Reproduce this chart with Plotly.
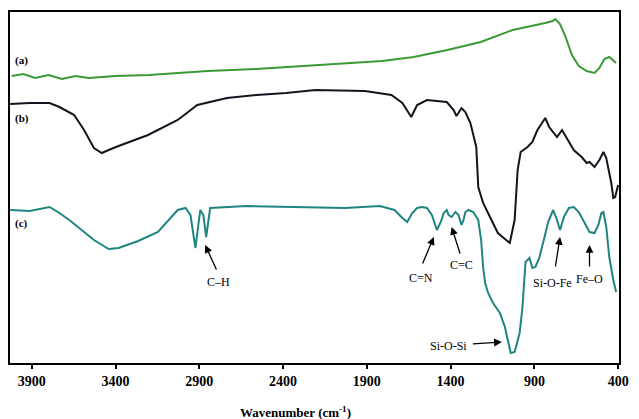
import plotly.graph_objects as go

# ---- data (wavenumber in cm^-1, transmittance in arbitrary offset units) ----
wn_a = [4020, 3950, 3880, 3800, 3720, 3640, 3560, 3480, 3400, 3200, 3000, 2850, 2560,
        2200, 1810, 1620, 1420, 1220, 1030, 835, 790, 776, 747, 718, 676, 635, 588, 541,
        512, 482, 453, 412]
tr_a = [287, 289, 285, 288, 284, 287, 285, 286, 287, 288, 290, 292, 294,
        298, 302, 306, 313, 321, 333, 340, 342, 344, 339, 328, 308, 297, 292, 290,
        295, 304, 306, 300]

wn_b = [4029, 3912, 3794, 3735, 3647, 3588, 3529, 3482, 3441, 3382, 3206, 3029, 2912,
        2735, 2559, 2382, 2206, 1912, 1753, 1688, 1635, 1600, 1541, 1423, 1382, 1365,
        1335, 1312, 1282, 1247, 1235, 1206, 1165, 1118, 1047, 1018, 1000, 982, 941,
        912, 882, 835, 812, 765, 735, 694, 665, 618, 588, 571, 541, 512, 488, 471,
        441, 429, 418, 400]
tr_b = [259, 260, 260, 256, 248, 233, 215, 210, 213, 217, 228, 243, 258,
        265, 268, 270, 273, 272, 268, 260, 246, 258, 263, 261, 253, 247,
        255, 251, 240, 216, 176, 160, 146, 130, 120, 143, 193, 211, 216,
        221, 233, 245, 236, 226, 233, 221, 213, 206, 200, 201, 196, 203, 211, 205,
        180, 165, 166, 178]

wn_c = [4029, 3912, 3794, 3735, 3676, 3617, 3529, 3441, 3382, 3265, 3147, 3029, 2982,
        2953, 2929, 2923, 2906, 2894, 2876, 2859, 2841, 2835, 2618, 2323, 2029, 1823,
        1735, 1688, 1659, 1629, 1600, 1571, 1541, 1512, 1488, 1482, 1459, 1441, 1423,
        1412, 1394, 1371, 1353, 1335, 1323, 1312, 1294, 1265, 1235, 1218, 1206, 1194,
        1176, 1147, 1106, 1076, 1059, 1041, 1018, 988, 971, 959, 953, 929, 912, 894,
        871, 841, 818, 788, 765, 747, 724, 694, 665, 635, 600, 571, 541, 518, 500,
        488, 471, 453, 429, 412]
tr_c = [153, 152, 156, 150, 143, 135, 123, 114, 115, 122, 131, 153, 155,
        148, 125, 115, 138, 153, 148, 126, 148, 155, 157, 156, 155, 157,
        153, 145, 141, 150, 155, 156, 155, 148, 135, 133, 141, 150, 153,
        148, 146, 151, 148, 138, 143, 151, 153, 151, 143, 123, 96, 80,
        70, 60, 50, 36, 23, 10, 11, 30, 56, 90, 101, 105, 95, 96,
        105, 125, 141, 153, 143, 133, 146, 155, 156, 151, 140, 131, 130, 138, 150,
        151, 136, 106, 83, 71]

tick_vals = [3900, 3400, 2900, 2400, 1900, 1400, 900, 400]
tick_text = ["3900", "3400", "2900", "2400", "1900", "1400", "900", "400"]

series_labels = ["(a)", "(b)", "(c)"]
label_pos = [(3959, 303), (3959, 245), (3959, 140)]

# peak annotations: text, text position, arrow tail, arrow head
peak_names = ["C–H", "C=N", "C=C", "Si-O-Fe", "Fe–O", "Si-O-Si"]
peak_text_pos = [(2788, 81), (1576, 85), (1335, 98), (794, 80), (571, 84), (1412, 17)]
peak_tail = [(2794, 92), (1571, 98), (1341, 108), (776, 95), (571, 95), (1276, 19)]
peak_head = [(2865, 118), (1500, 126), (1394, 136), (747, 126), (571, 118), (1094, 21)]

fig = go.Figure()
fig.add_trace(go.Scatter(x=wn_a, y=tr_a, mode="lines",
                         line=dict(color="#3a9a35", width=2), showlegend=False))
fig.add_trace(go.Scatter(x=wn_b, y=tr_b, mode="lines",
                         line=dict(color="#14141e", width=2), showlegend=False))
fig.add_trace(go.Scatter(x=wn_c, y=tr_c, mode="lines",
                         line=dict(color="#1f8580", width=2), showlegend=False))

annotations = []
for lab, (x, y) in zip(series_labels, label_pos):
    annotations.append(dict(x=x, y=y, text="<b>" + lab + "</b>", showarrow=False,
                            font=dict(family="Liberation Serif", size=11, color="black"),
                            xanchor="center", yanchor="middle"))
for name, (tx, ty), (ax, ay), (hx, hy) in zip(peak_names, peak_text_pos, peak_tail, peak_head):
    annotations.append(dict(x=tx, y=ty, text=name, showarrow=False,
                            font=dict(family="Liberation Serif", size=12, color="black"),
                            xanchor="center", yanchor="middle"))
    annotations.append(dict(x=hx, y=hy, ax=ax, ay=ay, axref="x", ayref="y",
                            xref="x", yref="y", text="", showarrow=True,
                            arrowhead=2, arrowsize=1.2, arrowwidth=1.3, arrowcolor="black"))
annotations.append(dict(x=0.469, y=-0.14, xref="paper", yref="paper",
                        text="<b>Wavenumber (cm<sup>-1</sup>)</b>", showarrow=False,
                        font=dict(family="Liberation Serif", size=13, color="black"),
                        xanchor="center", yanchor="middle"))

fig.update_layout(
    width=639, height=419,
    margin=dict(l=10, r=11, t=12, b=56),
    paper_bgcolor="white", plot_bgcolor="white",
    annotations=annotations,
    xaxis=dict(range=[4030, 395], tickvals=tick_vals, ticktext=tick_text,
               ticks="outside", ticklen=4, tickwidth=2, tickcolor="black",
               showline=True, linewidth=2, linecolor="black", mirror=True,
               showgrid=False, zeroline=False,
               tickfont=dict(family="Liberation Serif", size=14, color="black", weight="bold")),
    yaxis=dict(range=[0, 351], showticklabels=False, ticks="",
               showline=True, linewidth=2, linecolor="black", mirror=True,
               showgrid=False, zeroline=False),
)

fig.write_html("out.html")
